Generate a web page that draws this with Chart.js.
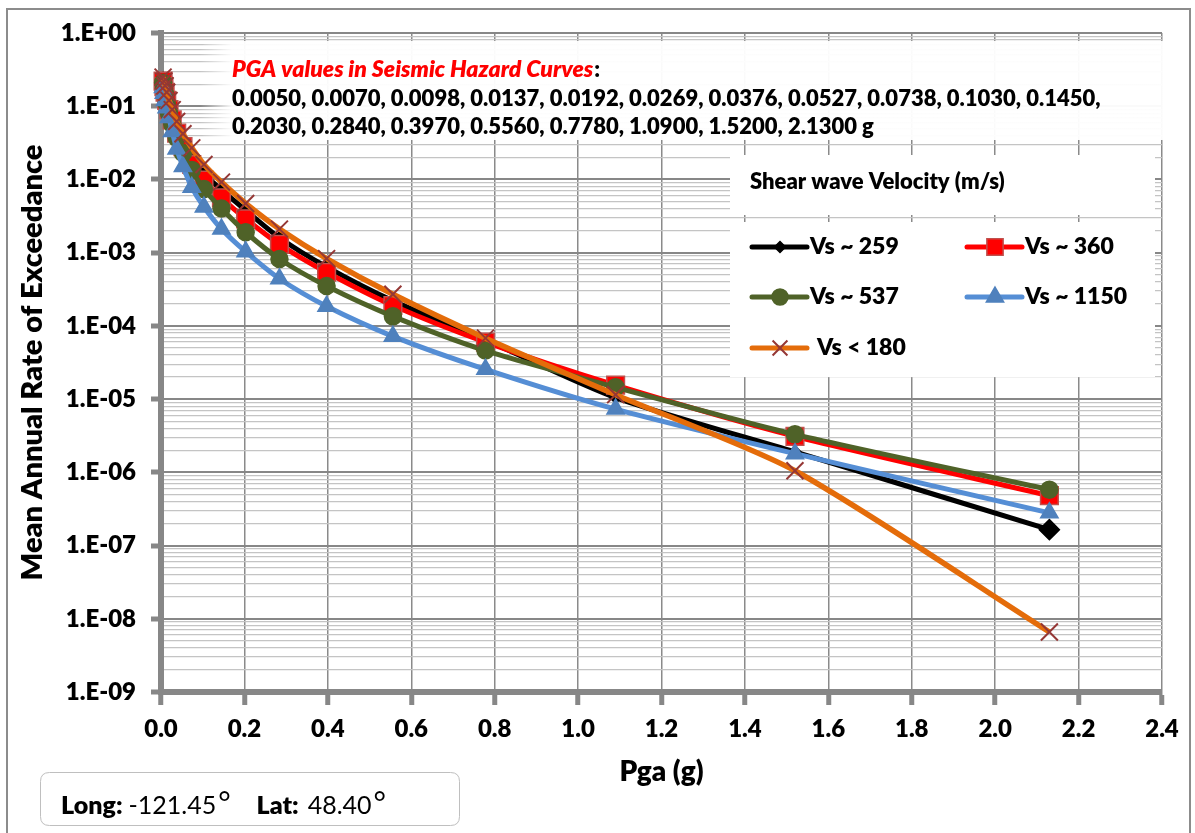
<!DOCTYPE html>
<html><head><meta charset="utf-8">
<script src="https://cdn.jsdelivr.net/npm/chart.js@4.4.1/dist/chart.umd.min.js"></script>
<style>html,body{margin:0;padding:0;background:#fff;}canvas{display:block;}</style>
</head><body>
<canvas id="c" width="1195" height="833"></canvas>
<script>
// ---------------- data ----------------
const pgaValues = [0.005, 0.007, 0.0098, 0.0137, 0.0192, 0.0269, 0.0376, 0.0527, 0.0738, 0.103, 0.145, 0.203, 0.284, 0.397, 0.556, 0.778, 1.09, 1.52, 2.13];
const vs259  = [0.24, 0.20, 0.17, 0.135, 0.10, 0.075, 0.050, 0.034, 0.021, 0.012, 0.0072, 0.0038, 0.0016, 6.4e-4, 2.2e-4, 6.4e-5, 1.05e-5, 1.9e-6, 1.65e-7];
const vs360  = [0.22, 0.185, 0.155, 0.12, 0.090, 0.065, 0.043, 0.028, 0.016, 0.0098, 0.0056, 0.0029, 0.0013, 5.4e-4, 1.9e-4, 6.0e-5, 1.55e-5, 3.1e-6, 4.8e-7];
const vs537  = [0.21, 0.175, 0.145, 0.11, 0.080, 0.057, 0.037, 0.023, 0.0135, 0.0074, 0.0040, 0.0019, 8.2e-4, 3.5e-4, 1.35e-4, 4.6e-5, 1.45e-5, 3.3e-6, 5.8e-7];
const vs1150 = [0.18, 0.15, 0.12, 0.095, 0.070, 0.045, 0.026, 0.015, 0.0078, 0.0042, 0.0021, 1.03e-3, 4.4e-4, 1.85e-4, 7.2e-5, 2.55e-5, 7.3e-6, 1.8e-6, 2.8e-7];
const vs180  = [0.25, 0.22, 0.19, 0.155, 0.12, 0.090, 0.062, 0.042, 0.027, 0.016, 0.0092, 0.0047, 0.0021, 8.3e-4, 2.7e-4, 6.8e-5, 1.15e-5, 1.05e-6, 6.6e-9];
const seriesNames = ['Vs ~ 259', 'Vs ~ 360', 'Vs ~ 537', 'Vs ~ 1150', 'Vs < 180'];
const yTickLabels = ['1.E+00', '1.E-01', '1.E-02', '1.E-03', '1.E-04', '1.E-05', '1.E-06', '1.E-07', '1.E-08', '1.E-09'];
const xTickLabels = ['0.0', '0.2', '0.4', '0.6', '0.8', '1.0', '1.2', '1.4', '1.6', '1.8', '2.0', '2.2', '2.4'];
const noteTitle = 'PGA values in Seismic Hazard Curves';
const noteLine1 = '0.0050, 0.0070, 0.0098, 0.0137, 0.0192, 0.0269, 0.0376, 0.0527, 0.0738, 0.1030, 0.1450,';
const noteLine2 = '0.2030, 0.2840, 0.3970, 0.5560, 0.7780, 1.0900, 1.5200, 2.1300 g';
const legendTitle = 'Shear wave Velocity (m/s)';
const yTitle = 'Mean Annual Rate of Exceedance';
const xTitle = 'Pga (g)';
const siteLong = '-121.45';
const siteLat = '48.40';

// ---------------- styles ----------------
const FONT = 'Lato, "Open Sans", sans-serif';
const HEAVY = '800';
const styles = [
  {line: '#000000', fill: '#000000', stroke: '#000000', shape: 'rectRot', r: 6, order: 4},
  {line: '#FF0000', fill: '#FF0000', stroke: '#C0504D', shape: 'rect', r: 12.5, order: 3},
  {line: '#4F6228', fill: '#4F6228', stroke: '#4F6228', shape: 'circle', r: 8.5, order: 2},
  {line: '#558ED5', fill: '#4F81BD', stroke: '#4F81BD', shape: 'triangle', r: 10, order: 1},
  {line: '#E46C0A', fill: '#953735', stroke: '#953735', shape: 'crossRot', r: 12, order: 0}
];
const seriesData = [vs259, vs360, vs537, vs1150, vs180];

function isDecade(v) {
  const e = Math.round(Math.log10(v));
  return Math.abs(v / Math.pow(10, e) - 1) < 1e-6;
}

function marker(ctx, shape, x, y, r, fill, stroke, bw) {
  ctx.save();
  ctx.beginPath();
  ctx.fillStyle = fill; ctx.strokeStyle = stroke; ctx.lineWidth = bw;
  if (shape === 'rectRot') {
    ctx.moveTo(x - r, y); ctx.lineTo(x, y - r); ctx.lineTo(x + r, y); ctx.lineTo(x, y + r); ctx.closePath();
    ctx.fill(); ctx.stroke();
  } else if (shape === 'rect') {
    const s = r * Math.SQRT1_2; ctx.rect(x - s, y - s, 2 * s, 2 * s); ctx.fill(); ctx.stroke();
  } else if (shape === 'circle') {
    ctx.arc(x, y, r, 0, Math.PI * 2); ctx.fill(); ctx.stroke();
  } else if (shape === 'triangle') {
    for (let k = 0; k < 3; k++) {
      const a = k * 2 * Math.PI / 3;
      const px = x + Math.sin(a) * r, py = y - Math.cos(a) * r;
      if (k === 0) ctx.moveTo(px, py); else ctx.lineTo(px, py);
    }
    ctx.closePath(); ctx.fill(); ctx.stroke();
  } else if (shape === 'crossRot') {
    const d = r * Math.SQRT1_2;
    ctx.moveTo(x - d, y - d); ctx.lineTo(x + d, y + d);
    ctx.moveTo(x + d, y - d); ctx.lineTo(x - d, y + d);
    ctx.stroke();
  }
  ctx.restore();
}

function rrect(ctx, x, y, w, h, r) {
  ctx.beginPath();
  ctx.moveTo(x + r, y); ctx.lineTo(x + w - r, y); ctx.quadraticCurveTo(x + w, y, x + w, y + r);
  ctx.lineTo(x + w, y + h - r); ctx.quadraticCurveTo(x + w, y + h, x + w - r, y + h);
  ctx.lineTo(x + r, y + h); ctx.quadraticCurveTo(x, y + h, x, y + h - r);
  ctx.lineTo(x, y + r); ctx.quadraticCurveTo(x, y, x + r, y); ctx.closePath();
}

const decor = {
  id: 'decor',
  beforeDraw(chart) {
    const ctx = chart.ctx;
    ctx.save();
    ctx.fillStyle = '#fff'; ctx.fillRect(0, 0, chart.width, chart.height);
    ctx.strokeStyle = '#8C8C8C'; ctx.lineWidth = 2;
    ctx.strokeRect(7, 9, 1183, 840);
    ctx.restore();
  },
  beforeDatasetsDraw(chart) {
    const ctx = chart.ctx;
    ctx.save();
    // note box
    const g = ctx.createLinearGradient(200, 0, 232, 0);
    g.addColorStop(0, 'rgba(255,255,255,0)');
    g.addColorStop(1, 'rgba(255,255,255,0.96)');
    ctx.fillStyle = g;
    rrect(ctx, 200, 41, 976, 99, 14); ctx.fill();
    ctx.textBaseline = 'middle'; ctx.textAlign = 'left';
    ctx.font = 'italic ' + HEAVY + ' 23px ' + FONT; ctx.fillStyle = '#FF0000';
    ctx.fillText(noteTitle, 232, 70);
    const tw = ctx.measureText(noteTitle).width;
    ctx.font = HEAVY + ' 22px ' + FONT; ctx.fillStyle = '#000';
    ctx.fillText(':', 232 + tw + 1, 70);
    ctx.fillText(noteLine1, 232, 99);
    ctx.fillText(noteLine2, 232, 127);

    // legend
    ctx.fillStyle = '#fff';
    ctx.fillRect(730, 155, 425, 60);
    ctx.fillRect(730, 222, 425, 155);
    ctx.fillStyle = '#000';
    ctx.font = HEAVY + ' 22px ' + FONT;
    ctx.fillText(legendTitle, 750, 182);
    const pos = [[752, 247], [967, 247], [752, 297], [967, 297], [752, 348]];
    ctx.font = HEAVY + ' 23px ' + FONT;
    for (let i = 0; i < 5; i++) {
      const [lx, ly] = pos[i];
      const s = styles[i];
      ctx.save();
      ctx.strokeStyle = s.line; ctx.lineWidth = 5; ctx.lineCap = 'round';
      ctx.beginPath(); ctx.moveTo(lx, ly); ctx.lineTo(lx + 55, ly); ctx.stroke();
      ctx.restore();
      const mr = i === 0 ? 5.5 : (i === 1 ? 11.5 : (i === 2 ? 8 : (i === 3 ? 10 : 10.5)));
      marker(ctx, s.shape, lx + 28, ly, mr, s.fill, s.stroke, i === 4 ? 2 : 1.5);
      ctx.fillStyle = '#000';
      ctx.fillText(seriesNames[i], lx + (i === 4 ? 65 : 58), ly);
    }

    // site box
    ctx.fillStyle = '#fff'; ctx.strokeStyle = '#BFBFBF'; ctx.lineWidth = 1;
    rrect(ctx, 40.5, 772.5, 419, 53, 9); ctx.fill(); ctx.stroke();
    ctx.fillStyle = '#000';
    let x = 61;
    const put = (txt, font, gapAfter, dy) => {
      ctx.font = font; ctx.fillText(txt, x, 806 + (dy || 0));
      x += ctx.measureText(txt).width + gapAfter;
    };
    put('Long:', HEAVY + ' 25px ' + FONT, 6);
    put(siteLong, '25px ' + FONT, 2);
    put('\u00B0', '30px ' + FONT, 26, -2);
    put('Lat:', HEAVY + ' 25px ' + FONT, 9);
    put(siteLat, '25px ' + FONT, 2);
    put('\u00B0', '30px ' + FONT, 0, -2);
    ctx.restore();
  }
};

const datasets = seriesData.map((d, i) => {
  const s = styles[i];
  return {
    label: seriesNames[i],
    data: pgaValues.map((x, k) => ({x: x, y: d[k]})),
    borderColor: s.line,
    borderWidth: i === 4 ? 5.5 : 5,
    backgroundColor: s.fill,
    pointStyle: s.shape,
    pointRadius: i === 0 ? (c => c.dataIndex === pgaValues.length - 1 ? 10 : 6) : s.r,
    pointBackgroundColor: s.fill,
    pointBorderColor: s.stroke,
    pointBorderWidth: i === 4 ? 2 : 1.5,
    tension: 0.25,
    fill: false,
    order: s.order,
    clip: false
  };
});

new Chart(document.getElementById('c'), {
  type: 'line',
  data: {datasets},
  options: {
    responsive: false,
    animation: false,
    devicePixelRatio: 1,
    layout: {padding: {top: 33, right: 33, left: 0, bottom: 0}},
    plugins: {legend: {display: false}, tooltip: {enabled: false}},
    scales: {
      x: {
        type: 'linear', position: 'bottom', min: 0, max: 2.4,
        afterBuildTicks: sc => { sc.ticks = xTickLabels.map(l => ({value: parseFloat(l)})); },
        afterFit: sc => { sc.height = 833 - 692; },
        ticks: {
          autoSkip: false, maxRotation: 0, padding: 10, color: '#000',
          font: {family: FONT, weight: HEAVY, size: 24},
          callback: (v, i) => xTickLabels[i]
        },
        grid: {color: '#8A8A8A', lineWidth: 1.5, tickLength: 13, tickWidth: 5, tickColor: '#878787'},
        border: {display: true, color: '#878787', width: 6},
        title: {display: true, text: xTitle, color: '#000', font: {family: FONT, weight: HEAVY, size: 28}, padding: {top: 0, bottom: 44}}
      },
      y: {
        type: 'logarithmic', position: 'left', min: 1e-9, max: 1,
        afterBuildTicks: sc => {
          const t = [];
          for (let e = -9; e <= 0; e++) {
            for (let m = 1; m <= 9; m++) {
              if (e === 0 && m > 1) break;
              t.push({value: m * Math.pow(10, e), major: m === 1});
            }
          }
          sc.ticks = t;
        },
        afterFit: sc => { sc.width = 161; },
        ticks: {
          autoSkip: false, padding: 15, color: '#000',
          font: {family: FONT, weight: HEAVY, size: 24},
          callback: v => isDecade(v) ? yTickLabels[-Math.round(Math.log10(v))] : ''
        },
        grid: {
          color: c => (c.tick && isDecade(c.tick.value)) ? '#878787' : '#C4C4C4',
          lineWidth: c => (c.tick && isDecade(c.tick.value)) ? 2 : 1.3,
          tickLength: 10, tickWidth: 5,
          tickColor: c => (c.tick && isDecade(c.tick.value)) ? '#878787' : 'rgba(0,0,0,0)'
        },
        border: {display: true, color: '#878787', width: 6},
        title: {display: true, text: yTitle, color: '#000', font: {family: FONT, weight: HEAVY, size: 29}, padding: {top: 15, bottom: 0}}
      }
    }
  },
  plugins: [decor]
});
</script>
</body></html>
